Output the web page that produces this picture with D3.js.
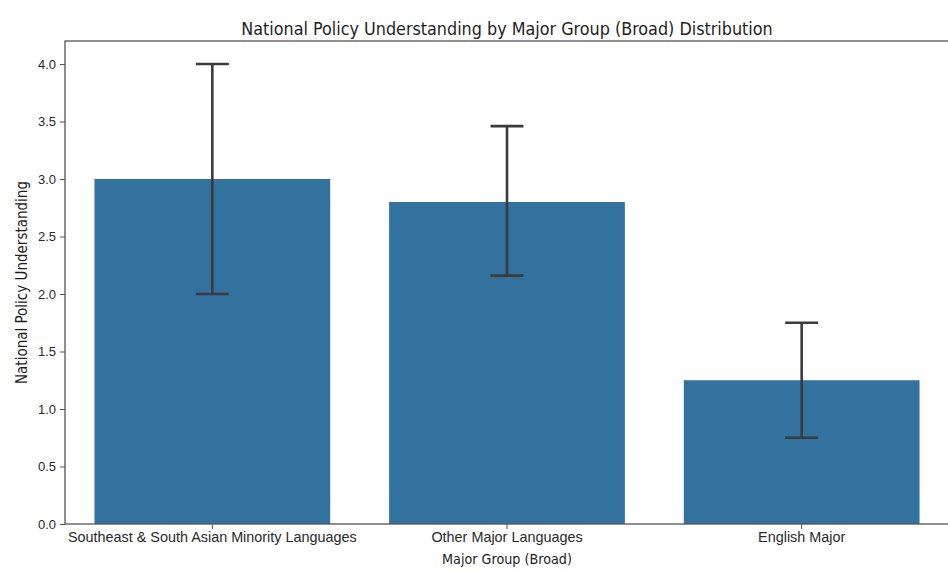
<!DOCTYPE html>
<html>
<head>
<meta charset="utf-8">
<script src="https://cdn.jsdelivr.net/npm/d3@7"></script>
<style>
  body { margin: 0; background: #fff; }
  svg { display: block; font-family: "DejaVu Sans Condensed", "DejaVu Sans", sans-serif; font-stretch: condensed; }
</style>
</head>
<body>
<svg width="948" height="571"></svg>
<script>
// chart values
var groups = ["Southeast & South Asian Minority Languages", "Other Major Languages", "English Major"];
var means = [3.0, 2.8, 1.25];
var lowErr = [2.0, 2.16, 0.75];
var highErr = [4.0, 3.46, 1.75];
var yTicks = [0.0, 0.5, 1.0, 1.5, 2.0, 2.5, 3.0, 3.5, 4.0];

var svg = d3.select("svg"),
    margin = {top: 41, right: -1, bottom: 47, left: 65},
    width = +svg.attr("width") - margin.left - margin.right,
    height = +svg.attr("height") - margin.top - margin.bottom;

var data = groups.map(function(g, i) {
  return {group: g, mean: means[i], lo: lowErr[i], hi: highErr[i]};
});

// seaborn style: bars take 0.8 of each slot
var x = d3.scaleBand().domain(groups).range([0, width]).paddingInner(0.2).paddingOuter(0.1),
    y = d3.scaleLinear().domain([0, 4.2]).range([height, 0]);

var g = svg.append("g")
    .attr("transform", "translate(" + margin.left + "," + margin.top + ")");

// bars
g.selectAll(".bar")
  .data(data)
  .enter().append("rect")
    .attr("class", "bar")
    .attr("x", function(d) { return x(d.group); })
    .attr("y", function(d) { return y(d.mean); })
    .attr("width", x.bandwidth())
    .attr("height", function(d) { return height - y(d.mean); })
    .attr("fill", "#33719f");

// error bars with caps
var err = g.selectAll(".err")
  .data(data)
  .enter().append("g")
    .attr("class", "err")
    .attr("stroke", "#3b3b3b")
    .attr("stroke-width", 2.6);

err.append("line")
    .attr("x1", function(d) { return x(d.group) + x.bandwidth() / 2; })
    .attr("x2", function(d) { return x(d.group) + x.bandwidth() / 2; })
    .attr("y1", function(d) { return y(d.lo); })
    .attr("y2", function(d) { return y(d.hi); });

["lo", "hi"].forEach(function(k) {
  err.append("line")
      .attr("x1", function(d) { return x(d.group) + x.bandwidth() / 2 - 16.5; })
      .attr("x2", function(d) { return x(d.group) + x.bandwidth() / 2 + 16.5; })
      .attr("y1", function(d) { return y(d[k]); })
      .attr("y2", function(d) { return y(d[k]); });
});

// axes
var xAxis = g.append("g")
    .attr("transform", "translate(0," + height + ")")
    .call(d3.axisBottom(x).tickSize(5).tickPadding(3));
var yAxis = g.append("g")
    .call(d3.axisLeft(y).tickValues(yTicks).tickFormat(d3.format(".1f")).tickSize(5).tickPadding(4));

[xAxis, yAxis].forEach(function(a) {
  a.select(".domain").remove();
  a.selectAll(".tick line").attr("stroke", "#555");
  a.selectAll(".tick text").attr("fill", "#2a2a2a");
});
xAxis.selectAll(".tick text").style("font-size", "14.4px");
yAxis.selectAll(".tick text").style("font-size", "13px");

// spines (box)
g.append("rect")
    .attr("x", 0).attr("y", 0)
    .attr("width", width).attr("height", height)
    .attr("fill", "none")
    .attr("stroke", "#555")
    .attr("stroke-width", 1.3);

// labels
svg.append("text")
    .attr("x", 507)
    .attr("y", 35)
    .attr("text-anchor", "middle")
    .attr("fill", "#1e1e1e")
    .style("font-size", "17.8px")
    .text("National Policy Understanding by Major Group (Broad) Distribution");

svg.append("text")
    .attr("x", 507)
    .attr("y", 564)
    .attr("text-anchor", "middle")
    .attr("fill", "#1e1e1e")
    .style("font-size", "14.2px")
    .text("Major Group (Broad)");

svg.append("text")
    .attr("transform", "translate(27," + (margin.top + height / 2) + ") rotate(-90)")
    .attr("text-anchor", "middle")
    .attr("fill", "#1e1e1e")
    .style("font-size", "15px")
    .text("National Policy Understanding");
</script>
</body>
</html>
